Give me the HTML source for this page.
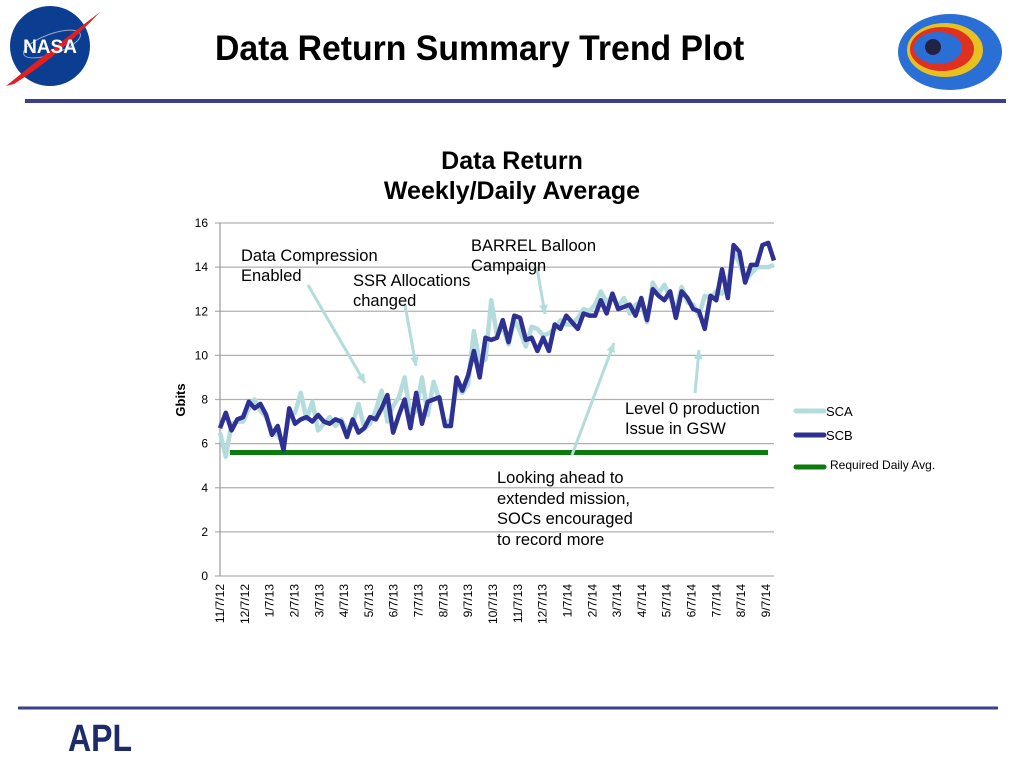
<!DOCTYPE html>
<html><head><meta charset="utf-8"><style>
body{margin:0;width:1024px;height:768px;background:#fff;overflow:hidden;font-family:"Liberation Sans",sans-serif;position:relative}
.t{position:absolute;white-space:nowrap}
</style></head><body>
<svg width="1024" height="768" style="position:absolute;left:0;top:0">
<g>
<circle cx="50" cy="46" r="40" fill="#0b3d91"/>
<ellipse cx="52" cy="44" rx="30" ry="10" fill="none" stroke="#9ab" stroke-width="1" transform="rotate(-20 52 44)"/>
<path d="M6 86 Q50 50 100 12 Q60 55 14 84Z" fill="#e02020"/>
<text x="50" y="53" font-family="Liberation Sans" font-weight="bold" font-size="19" fill="#fff" text-anchor="middle">NASA</text>
</g>
<g>
<ellipse cx="950" cy="52" rx="52" ry="38" fill="#2a6fd6"/>
<ellipse cx="945" cy="50" rx="38" ry="27" fill="#e8c020"/>
<ellipse cx="942" cy="49" rx="32" ry="22" fill="#e03020"/>
<ellipse cx="938" cy="48" rx="24" ry="16" fill="#2a6fd6"/>
<circle cx="933" cy="47" r="8" fill="#224"/>
</g>
<line x1="25" y1="101" x2="1006" y2="101" stroke="#3c3f8f" stroke-width="4"/>
<line x1="18" y1="708" x2="998" y2="708" stroke="#3c3f8f" stroke-width="3"/>
<text x="68" y="751" font-family="Liberation Sans" font-weight="bold" font-size="38" fill="#1d2a6b" textLength="64" lengthAdjust="spacingAndGlyphs">APL</text>
<g id="chart"></g>
</svg>
<div class="t" style="left:215px;top:29px;font-size:35px;font-weight:bold;transform:scaleX(0.965);transform-origin:left top">Data Return Summary Trend Plot</div>
<div class="t" style="left:362px;top:146px;width:300px;text-align:center;font-size:25px;font-weight:bold;line-height:30px;white-space:normal">Data Return<br>Weekly/Daily Average</div>
<div class="t" style="left:241px;top:246px;font-size:16.5px;line-height:20px">Data Compression<br>Enabled</div>
<div class="t" style="left:353px;top:271px;font-size:16.5px;line-height:20px">SSR Allocations<br>changed</div>
<div class="t" style="left:471px;top:236px;font-size:16.5px;line-height:20px">BARREL Balloon<br>Campaign</div>
<div class="t" style="left:625px;top:399px;font-size:16.5px;line-height:20px">Level 0 production<br>Issue in GSW</div>
<div class="t" style="left:497px;top:468px;font-size:16.5px;line-height:20.5px">Looking ahead to<br>extended mission,<br>SOCs encouraged<br>to record more</div>
<script>
const categories=["11/7/12","12/7/12","1/7/13","2/7/13","3/7/13","4/7/13","5/7/13","6/7/13","7/7/13","8/7/13","9/7/13","10/7/13","11/7/13","12/7/13","1/7/14","2/7/14","3/7/14","4/7/14","5/7/14","6/7/14","7/7/14","8/7/14","9/7/14"];
const yTicks=[0,2,4,6,8,10,12,14,16];
const scb=[6.7,7.4,6.6,7.1,7.2,7.9,7.6,7.8,7.3,6.4,6.8,5.7,7.6,6.9,7.1,7.2,7.0,7.3,7.0,6.9,7.1,7.0,6.3,7.1,6.5,6.7,7.2,7.1,7.6,8.2,6.5,7.3,8.0,6.7,8.3,6.9,7.9,8.0,8.1,6.8,6.8,9.0,8.4,9.1,10.2,9.0,10.8,10.7,10.8,11.6,10.6,11.8,11.7,10.7,10.8,10.2,10.8,10.2,11.4,11.2,11.8,11.5,11.2,11.9,11.8,11.8,12.5,11.9,12.8,12.1,12.2,12.3,11.8,12.6,11.6,13.0,12.7,12.5,12.9,11.7,12.9,12.6,12.1,12.0,11.2,12.7,12.5,13.9,12.6,15.0,14.7,13.3,14.1,14.1,15.0,15.1,14.3];
const sca=[6.5,5.4,6.9,7.0,7.0,7.6,8.0,7.5,7.2,6.6,6.4,6.0,7.3,7.4,8.3,7.1,7.9,6.6,6.9,7.2,6.8,7.1,6.6,6.9,7.8,6.7,6.9,7.5,8.4,7.0,7.7,8.1,9.0,7.2,7.5,9.0,7.3,8.8,8.0,6.9,7.1,8.6,8.3,8.7,11.1,9.7,9.8,12.5,10.9,11.3,10.5,11.6,11.1,10.4,11.3,11.2,10.9,11.0,11.2,11.6,11.4,11.4,11.7,12.1,12.0,12.3,12.9,12.4,12.7,12.2,12.6,11.9,12.3,12.4,11.5,13.3,12.8,13.2,12.6,12.1,13.1,12.4,12.3,11.8,12.7,12.6,12.9,12.8,13.2,14.7,14.2,13.4,13.7,14.0,14.0,14.0,14.1];
const required=[5.6,5.6];
const NS="http://www.w3.org/2000/svg",g=document.getElementById('chart');
const X0=220,X1=774,Y0=576,Y1=223;
const yS=v=>Y0-(v-0)/(16-0)*(Y0-Y1);
const xS=i=>X0+i/(scb.length-1)*(X1-X0);
const xC=i=>X0+i/(categories.length-1)*(766-X0);
function mk(t,a){const e=document.createElementNS(NS,t);for(const k in a)e.setAttribute(k,a[k]);g.appendChild(e);return e;}
yTicks.forEach(v=>{
 const l=mk('line',{x1:X0-5,x2:X1,y1:yS(v),y2:yS(v),stroke:'#b0b0b0','stroke-width':1.2});
 
 
 const t=mk('text',{x:208,y:yS(v)+4,'font-size':12,'text-anchor':'end','font-family':'Liberation Sans'});t.textContent=v;
 
 
});
const ax=mk('line',{x1:X0,x2:X0,y1:Y1,y2:Y0,stroke:'#999','stroke-width':1.2});


categories.forEach((c,i)=>{
 const x=xC(i);
 const t=mk('text',{x:0,y:0,'font-size':12,'text-anchor':'end','font-family':'Liberation Sans',transform:`translate(${x+4},${584}) rotate(-90)`});t.textContent=c;
 
 
});
const yt=mk('text',{x:0,y:0,'font-size':13,'font-weight':'bold','text-anchor':'middle','font-family':'Liberation Sans',transform:'translate(185,400) rotate(-90)'});yt.textContent='Gbits';


const rq=mk('line',{x1:230,x2:768,y1:yS(required[0]),y2:yS(required[1]),stroke:'#0c7a0c','stroke-width':5});


function series(d,col,w,name){const p=mk('polyline',{points:d.map((v,i)=>xS(i)+','+yS(v)).join(' '),fill:'none',stroke:col,'stroke-width':w,'stroke-linejoin':'round'});
 
 }
series(sca,'#b4dcdc',4.5,'series-sca');
series(scb,'#2e3192',4.5,'series-scb');
[[308,285,365,383],[405,305,416,366],[537,268,545,314],[572,455,614,343],[695,393,699,350]].forEach(a=>{
 const l=mk('line',{x1:a[0],y1:a[1],x2:a[2],y2:a[3],stroke:'#b4dcdc','stroke-width':3});
 
 
 const ang=Math.atan2(a[3]-a[1],a[2]-a[0]);const L=10;
 const h=mk('polygon',{points:`${a[2]},${a[3]} ${a[2]-L*Math.cos(ang-0.45)},${a[3]-L*Math.sin(ang-0.45)} ${a[2]-L*Math.cos(ang+0.45)},${a[3]-L*Math.sin(ang+0.45)}`,fill:'#b4dcdc'});
 
 
});
[['SCA','#b4dcdc',411,0],['SCB','#2e3192',435,0],['Required Daily Avg.','#0c7a0c',467,4]].forEach(e=>{
 const l=mk('line',{x1:796,x2:824,y1:e[2],y2:e[2],stroke:e[1],'stroke-width':5,'stroke-linecap':'round'});
 
 
 const t=mk('text',{x:826+e[3],y:e[2]+5-e[3]/2*1.5,'font-size':e[3]?12:13,'font-family':'Liberation Sans'});t.textContent=e[0];
 
 
});
</script>
</body></html>
